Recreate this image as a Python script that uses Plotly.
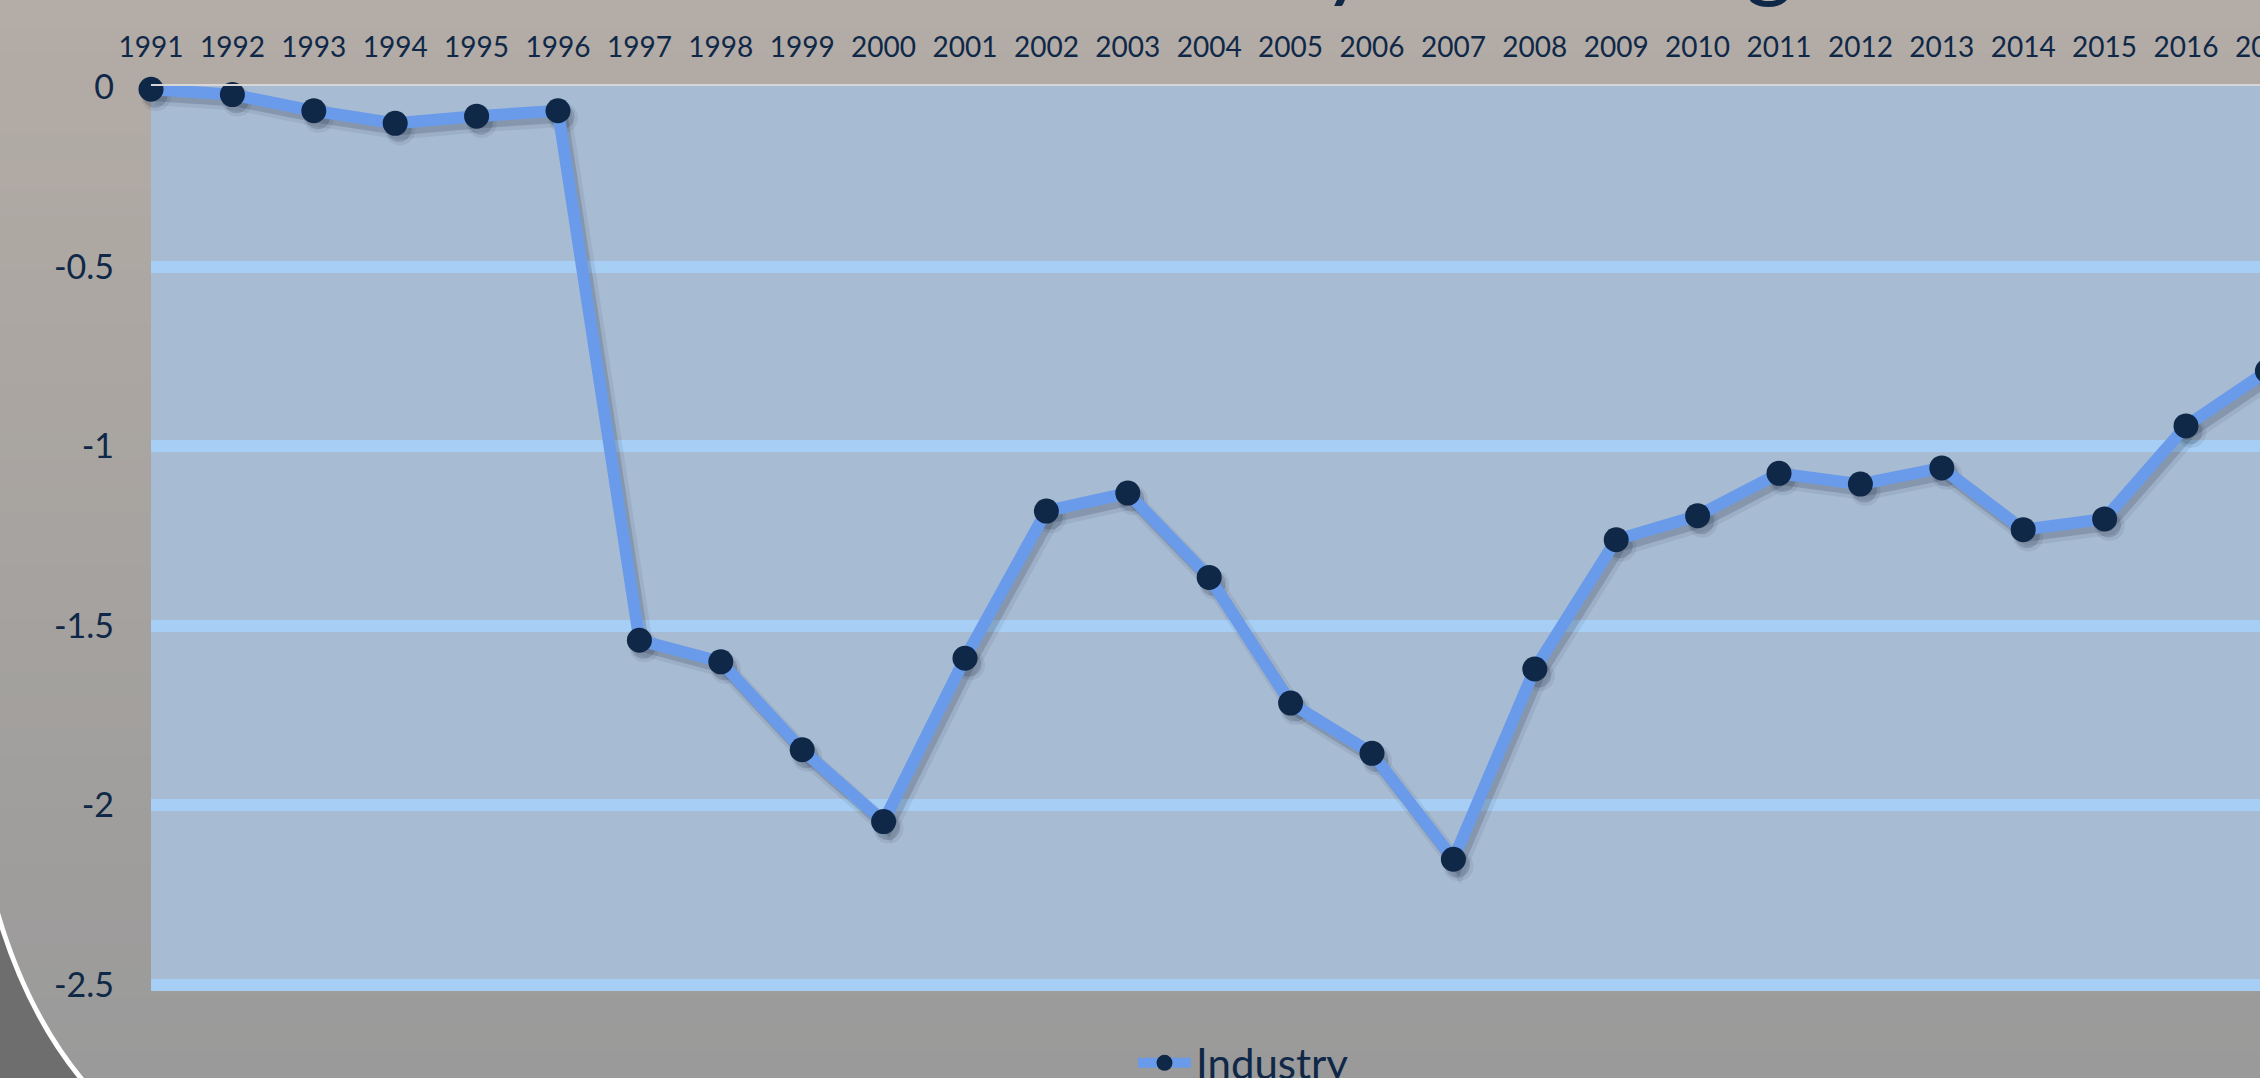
import plotly.graph_objects as go

# ---------------- data ----------------
years = list(range(1991, 2018))
industry = [-0.005, -0.02, -0.065, -0.10, -0.08, -0.065, -1.54, -1.60, -1.845, -2.045,
            -1.59, -1.18, -1.13, -1.365, -1.715, -1.855, -2.15, -1.62, -1.26, -1.193,
            -1.075, -1.105, -1.06, -1.232, -1.202, -0.943, -0.79]
series_name = "Industry"
y_tickvals = [0, -0.5, -1, -1.5, -2, -2.5]
y_ticktext = ["0", "-0.5", "-1", "-1.5", "-2", "-2.5"]
grid_vals = [-0.5, -1, -1.5, -2, -2.5]
title_text = "Industry Percentage"

# ---------------- geometry ----------------
W, H = 2330, 1078
L, T, B = 151, 86, 87
PW, PH = W - L, H - T - B
PX_PER_YEAR = 81.4
BOTTOM_PX = H - B
Y_RANGE = [-2.517, 0.004]
PX_PER_UNIT = PH / (Y_RANGE[1] - Y_RANGE[0])

NAVY = "#0F2847"
LINE = "#6A9BEA"
GRID = "#A7CEF4"
FONT = "Lato"


def px_x(p):
    return (p - L) / PW


def px_y(p):
    return (BOTTOM_PX - p) / PH


fig = go.Figure()

# soft drop shadow (two layers), offset a few pixels down-right from the data
for off, lw, ms, alpha in [(5, 18, 30, 0.07), (4, 12, 25, 0.16)]:
    fig.add_trace(go.Scatter(
        x=[v + off / PX_PER_YEAR for v in years],
        y=[v - (off + 2) / PX_PER_UNIT for v in industry],
        mode="lines+markers", showlegend=False, hoverinfo="skip",
        line=dict(color="rgba(15,25,45,%.2f)" % alpha, width=lw),
        marker=dict(size=ms, color="rgba(15,25,45,%.2f)" % alpha),
        cliponaxis=False, yaxis="y",
    ))

fig.add_trace(go.Scatter(
    x=years, y=industry, name=series_name,
    mode="lines+markers",
    line=dict(color=LINE, width=12),
    marker=dict(size=25, color=NAVY),
    cliponaxis=False, yaxis="y2",
))

# ---------------- background shapes ----------------
shapes = []
top_c = (180, 172, 166)
bot_c = (154, 154, 154)
N = 40
for i in range(N):
    p0 = H * i / N
    p1 = H * (i + 1) / N + 1
    t = (i + 0.5) / N
    c = tuple(round(top_c[k] + (bot_c[k] - top_c[k]) * t) for k in range(3))
    shapes.append(dict(type="rect", xref="paper", yref="paper", layer="below",
                       x0=px_x(-5), x1=px_x(W + 5), y0=px_y(p1), y1=px_y(p0),
                       line=dict(width=0), fillcolor="rgb(%d,%d,%d)" % c))

# dark slide corner with white arc
path = "M %f,%f Q %f,%f %f,%f L %f,%f Z" % (
    px_x(-10), px_y(885), px_x(20), px_y(1006), px_x(84), px_y(1082),
    px_x(-10), px_y(1082))
shapes.append(dict(type="path", xref="paper", yref="paper", layer="below", path=path,
                   fillcolor="#6E6E6E", line=dict(color="white", width=5)))

# plot area background
shapes.append(dict(type="rect", xref="paper", yref="paper", layer="below",
                   x0=0, x1=1, y0=0, y1=1, line=dict(width=0),
                   fillcolor="#A7BBD2"))

fig.update_layout(
    width=W, height=H,
    margin=dict(l=L, r=0, t=T, b=B, autoexpand=False),
    paper_bgcolor="#A6A3A1",
    plot_bgcolor="rgba(0,0,0,0)",
    shapes=shapes,
    font=dict(family=FONT, color=NAVY),
    showlegend=True,
    legend=dict(orientation="h", x=px_x(1133), xanchor="left",
                y=px_y(1063), yanchor="middle",
                font=dict(size=42, color=NAVY, family=FONT),
                bgcolor="rgba(0,0,0,0)", itemwidth=53),
    xaxis=dict(range=[1991, 1991 + PW / PX_PER_YEAR], side="top",
               tickmode="linear", tick0=1991, dtick=1, showgrid=False,
               zeroline=False, showline=True, linecolor="#D6D6D6", linewidth=2,
               ticks="", tickfont=dict(size=28, color=NAVY, family=FONT),
               ticklabelstandoff=16),
    yaxis=dict(range=Y_RANGE, tickmode="array", tickvals=y_tickvals,
               ticktext=y_ticktext, showgrid=False, zeroline=False,
               showline=False, ticks="",
               tickfont=dict(size=34, color=NAVY, family=FONT),
               ticklabelstandoff=36),
    yaxis2=dict(range=Y_RANGE, overlaying="y", tickmode="array",
                tickvals=grid_vals, showticklabels=False, showgrid=True,
                gridcolor=GRID, gridwidth=12, zeroline=False, showline=False),
    annotations=[dict(text=title_text, xref="paper", yref="paper",
                      x=px_x(1035), xanchor="left", y=px_y(-45), yanchor="middle",
                      showarrow=False, font=dict(size=92, color=NAVY, family=FONT))],
)

fig.write_html("out.html",
               config={"displayModeBar": False},
               post_script="document.body.style.margin='0';"
                           "document.body.style.overflow='hidden';"
                           "document.documentElement.style.overflow='hidden';")
